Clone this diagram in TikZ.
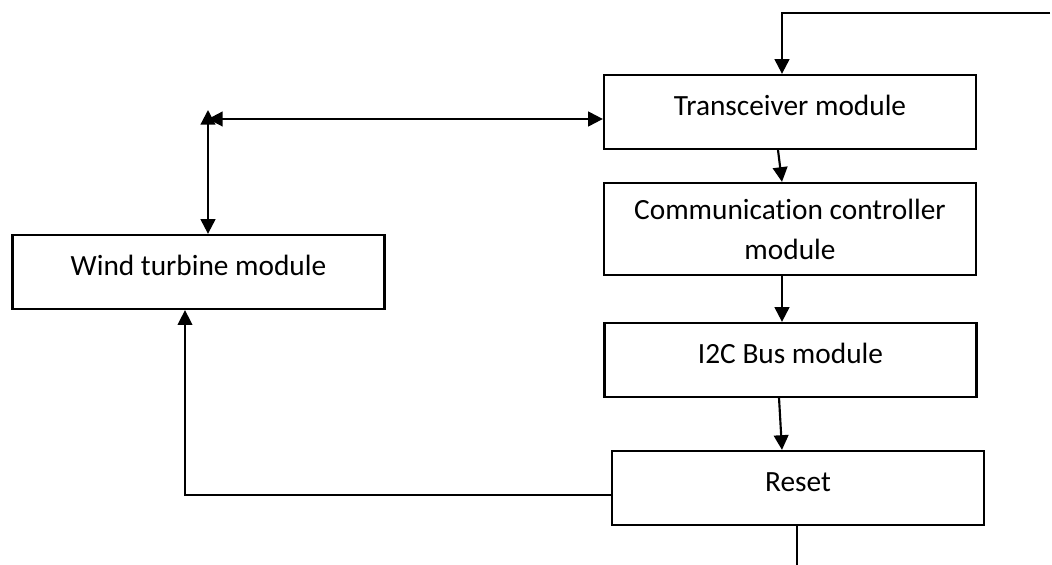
\documentclass[tikz,border=0pt]{standalone}
\usepackage{fontspec}
\setmainfont{Carlito}[Ligatures=NoCommon]
\usetikzlibrary{arrows.meta}

\begin{document}
\begin{tikzpicture}[x=0.375pt, y=-0.375pt, font=\fontsize{11}{15}\selectfont,
  blk/.style={draw, line width=0.85pt, minimum width=139.5pt, minimum height=27.75pt, inner sep=0pt, align=center},
  lift/.style={text depth=0.48em},
  arr/.style={line width=0.8pt, -{Triangle[length=5.5pt, width=5.5pt]}},
  darr/.style={line width=0.8pt, {Triangle[length=5.5pt, width=5.5pt]}-{Triangle[length=5.5pt, width=5.5pt]}},
  thinln/.style={line width=0.5pt}]
  \useasboundingbox (0,0) rectangle (1052,565);

  % blocks
  \node[blk, lift] (trx) at (790,112) {Transceiver module};
  \node[blk, minimum height=34.5pt] (comm) at (790,229) {Communication controller\\module};
  \node[blk, lift] (i2c) at (790.5,360) {I2C Bus module};
  \node[blk, lift] (reset) at (798,488) {Reset};
  \node[blk, lift] (wind) at (198.5,272) {Wind turbine module};

  % free ends and bends
  \coordinate (feed) at (1050,13);
  \coordinate (bend) at (782,13);
  \coordinate (jn) at (208,119);
  \coordinate (jt) at (208,110);
  \coordinate (ret) at (185,495);
  \coordinate (out) at (797,565);

  % connectors
  \draw[arr] (feed) -- (bend) -- (bend |- trx.north);
  \draw[darr] (jn) -- (trx.west |- jn);
  \draw[darr] (jt) -- (jt |- wind.north);
  \draw[arr] ([xshift=-4.5pt]trx.south) -- ([xshift=-3pt]comm.north);
  \draw[arr] ([xshift=-3pt]comm.south) -- ([xshift=-3pt]comm.south |- i2c.north);
  \draw[arr] ([xshift=-4.3pt]i2c.south) -- ([xshift=-6pt]reset.north);
  \draw[arr, thinln] (reset.west |- ret) -- (ret) -- (ret |- wind.south);
  \draw[thinln] (reset.south -| out) -- (out);
\end{tikzpicture}
\end{document}
